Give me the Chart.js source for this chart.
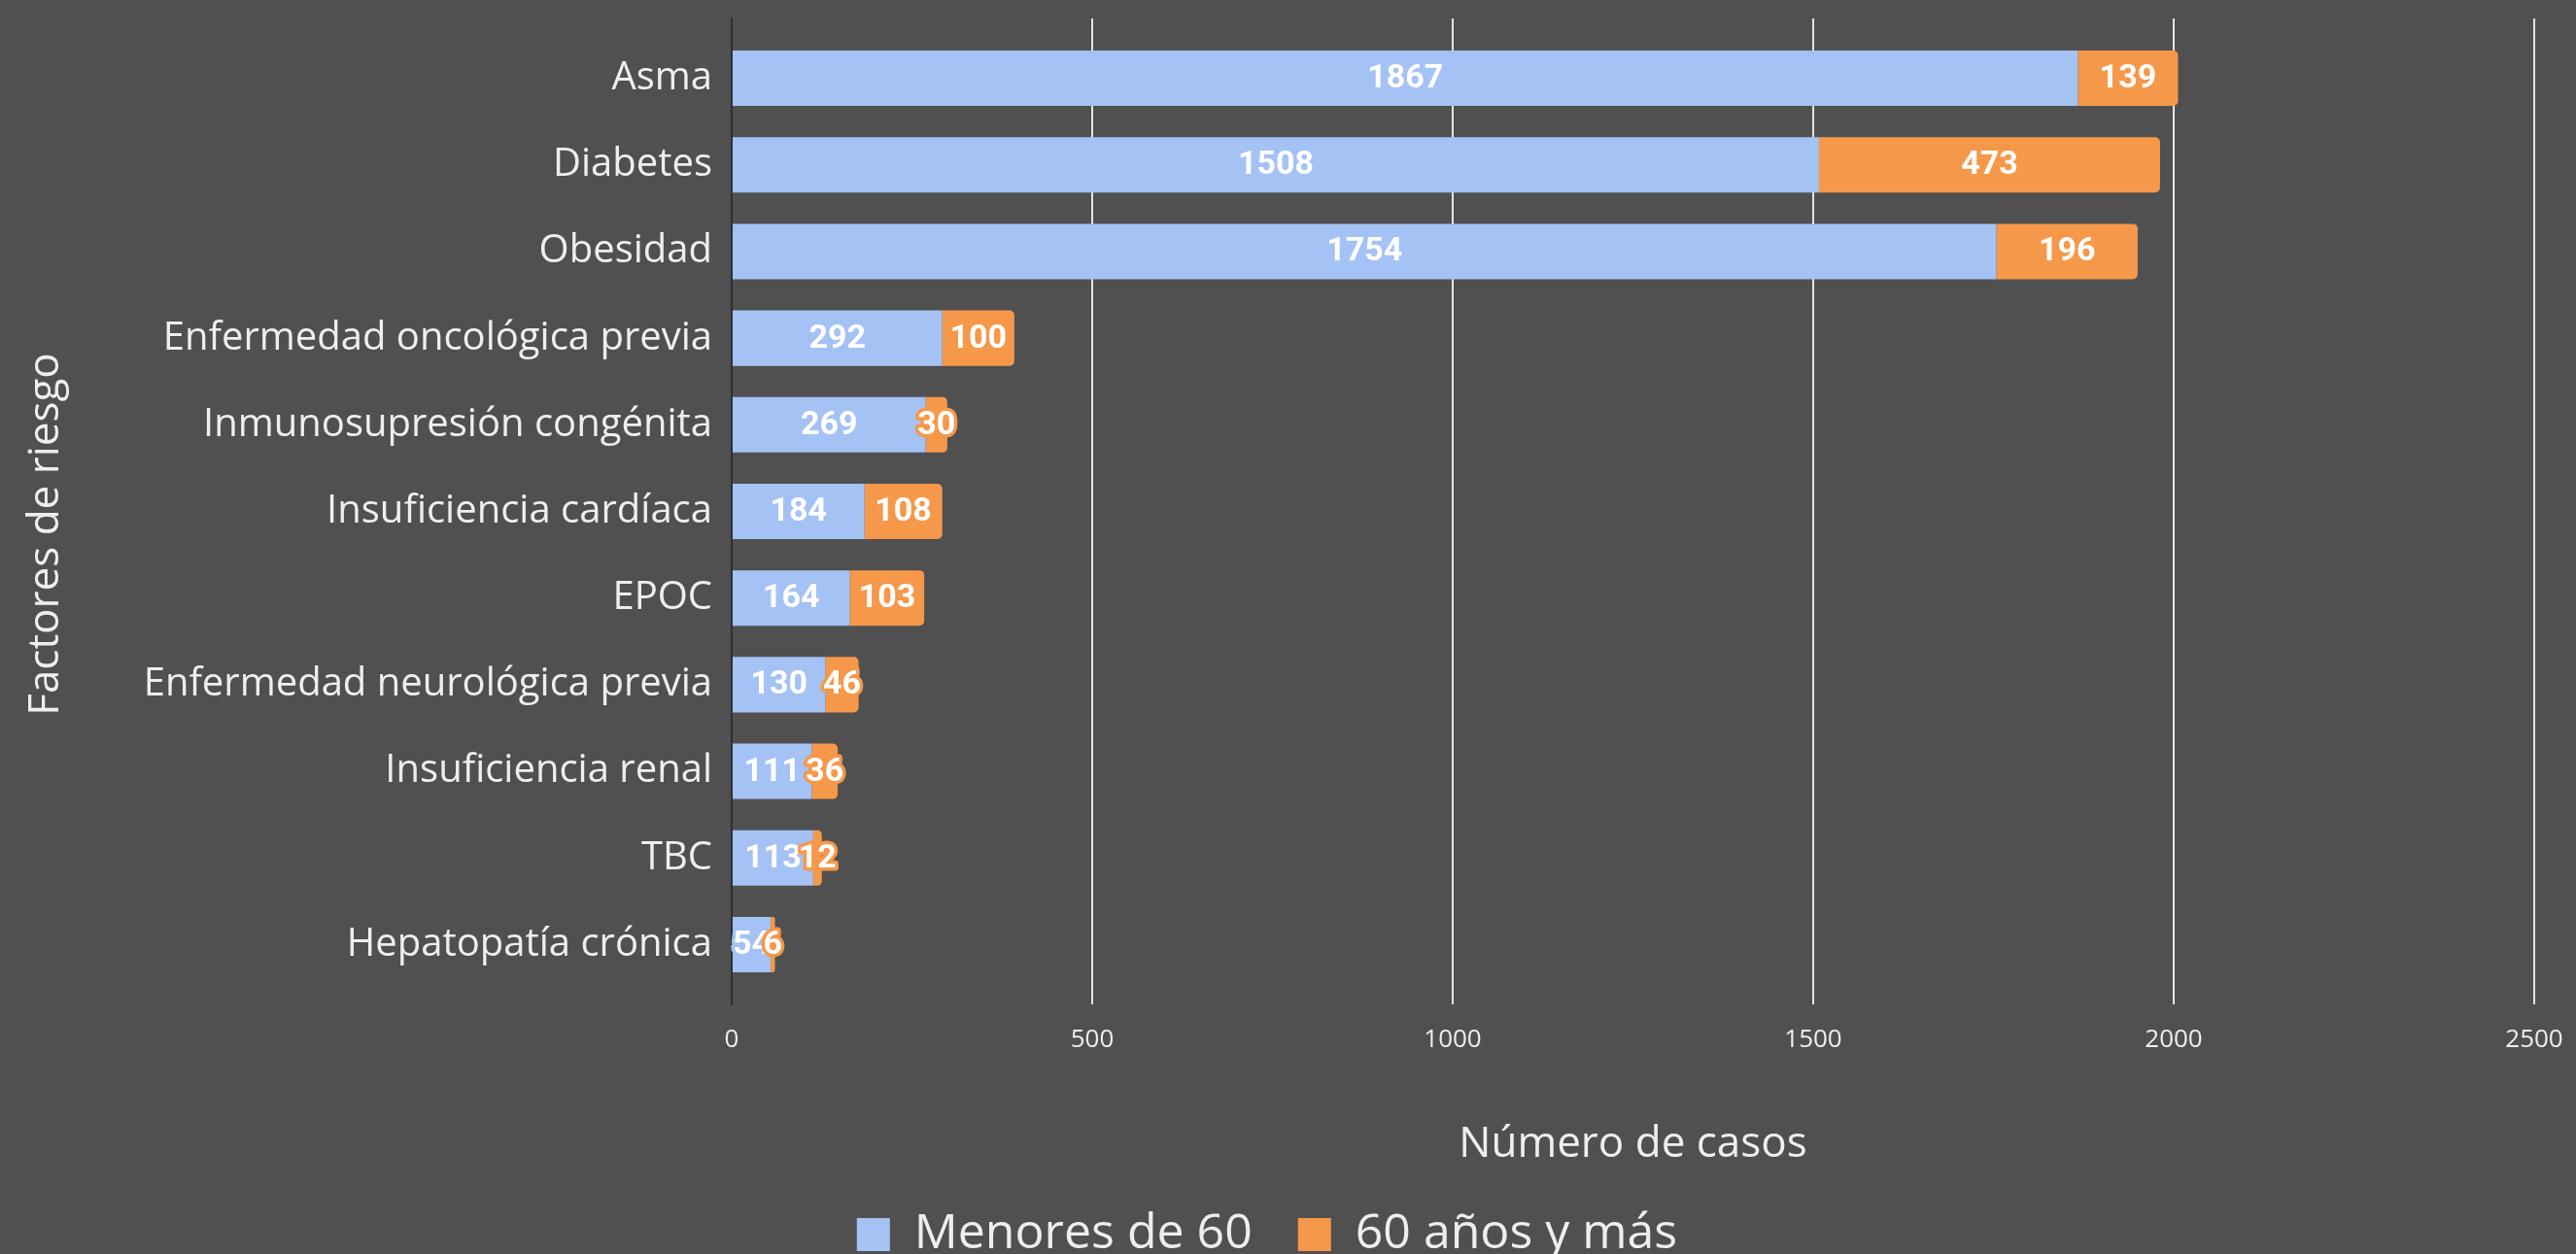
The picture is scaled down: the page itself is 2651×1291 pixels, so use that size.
<!DOCTYPE html>
<html>
<head>
<meta charset="utf-8">
<script src="https://cdn.jsdelivr.net/npm/chart.js@4.4.1/dist/chart.umd.min.js"></script>
<style>
  html, body { margin: 0; padding: 0; background: #505050; }
  canvas { display: block; }
</style>
</head>
<body>
<canvas id="barChart" width="2651" height="1291"></canvas>
<script>
// categories and values
var factores = ['Asma', 'Diabetes', 'Obesidad', 'Enfermedad oncológica previa', 'Inmunosupresión congénita',
    'Insuficiencia cardíaca', 'EPOC', 'Enfermedad neurológica previa', 'Insuficiencia renal', 'TBC', 'Hepatopatía crónica'];
var menores60 = [1867, 1508, 1754, 292, 269, 184, 164, 130, 111, 113, 54];
var mayores60 = [139, 473, 196, 100, 30, 108, 103, 46, 36, 12, 6];
var xTicks = [0, 500, 1000, 1500, 2000, 2500];

var BLUE = '#a4c2f4';
var ORANGE = '#f6984a';
var TEXT = '#eeeeee';

// white value labels centred in each segment, with a halo in the bar colour
var valueLabels = {
    id: 'valueLabels',
    afterDatasetsDraw: function(chart) {
        var ctx = chart.ctx;
        ctx.save();
        ctx.font = 'bold 34px Roboto';
        ctx.textAlign = 'center';
        ctx.textBaseline = 'middle';
        ctx.lineJoin = 'round';
        chart.data.datasets.forEach(function(ds, i) {
            var meta = chart.getDatasetMeta(i);
            meta.data.forEach(function(bar, j) {
                var p = bar.getProps(['x', 'y', 'base'], true);
                var cx = (p.x + p.base) / 2;
                var txt = String(ds.data[j]);
                ctx.lineWidth = 7;
                ctx.strokeStyle = ds.backgroundColor;
                ctx.strokeText(txt, cx, p.y + 1);
                ctx.fillStyle = '#ffffff';
                ctx.fillText(txt, cx, p.y + 1);
            });
        });
        ctx.restore();
    }
};

// y axis title, sits a bit lower than the plot centre in the original
var yTitle = {
    id: 'yTitle',
    afterDraw: function(chart) {
        var ctx = chart.ctx;
        ctx.save();
        ctx.translate(47, 550);
        ctx.rotate(-Math.PI / 2);
        ctx.font = '44px "Open Sans"';
        ctx.fillStyle = TEXT;
        ctx.textAlign = 'center';
        ctx.textBaseline = 'middle';
        ctx.fillText('Factores de riesgo', 0, 0);
        ctx.restore();
    }
};

var ctx = document.getElementById('barChart').getContext('2d');
new Chart(ctx, {
    type: 'bar',
    data: {
        labels: factores,
        datasets: [{
            label: 'Menores de 60',
            data: menores60,
            backgroundColor: BLUE,
            borderWidth: 0
        }, {
            label: '60 años y más',
            data: mayores60,
            backgroundColor: ORANGE,
            borderWidth: 0,
            borderRadius: 5,
            borderSkipped: 'start'
        }]
    },
    plugins: [valueLabels, yTitle],
    options: {
        indexAxis: 'y',
        responsive: false,
        animation: false,
        barPercentage: 0.64,
        categoryPercentage: 1,
        layout: { padding: { top: 19, right: 43, bottom: -15, left: 0 } },
        plugins: {
            legend: {
                position: 'bottom',
                labels: {
                    color: TEXT,
                    font: { family: 'Open Sans', size: 50 },
                    boxWidth: 34,
                    boxHeight: 34,
                    padding: 47
                }
            },
            tooltip: { enabled: false }
        },
        scales: {
            x: {
                stacked: true,
                min: 0,
                max: 2500,
                afterBuildTicks: function(scale) {
                    scale.ticks = xTicks.map(function(v) { return { value: v }; });
                },
                afterFit: function(scale) {
                    scale.height = 165;
                    scale.paddingLeft = 0;
                    scale.paddingRight = 0;
                },
                grid: {
                    color: function(c) { return c.tick && c.tick.value === 0 ? 'rgba(0,0,0,0)' : '#e4e4e4'; },
                    lineWidth: 2,
                    drawTicks: false
                },
                border: { display: false },
                ticks: {
                    color: TEXT,
                    font: { family: 'Open Sans', size: 26 },
                    padding: 21,
                    maxRotation: 0,
                    callback: function(v) { return String(v); }
                },
                title: {
                    display: true,
                    text: 'Número de casos',
                    color: TEXT,
                    font: { family: 'Open Sans', size: 44, lineHeight: 1 },
                    padding: { top: 0, bottom: -1 }
                }
            },
            y: {
                stacked: true,
                // extra room above the first and below the last band, as in the reference
                afterBuildTicks: function(scale) {
                    scale._startValue -= 0.19;
                    scale._valueRange += 0.38;
                },
                afterFit: function(scale) {
                    scale.width = 753;
                    scale.paddingTop = 0;
                    scale.paddingBottom = 0;
                },
                grid: { display: false },
                border: { display: true, color: '#2f2f2f', width: 2 },
                ticks: {
                    color: TEXT,
                    font: { family: 'Open Sans', size: 40 },
                    padding: 12
                }
            }
        }
    }
});
</script>
</body>
</html>
